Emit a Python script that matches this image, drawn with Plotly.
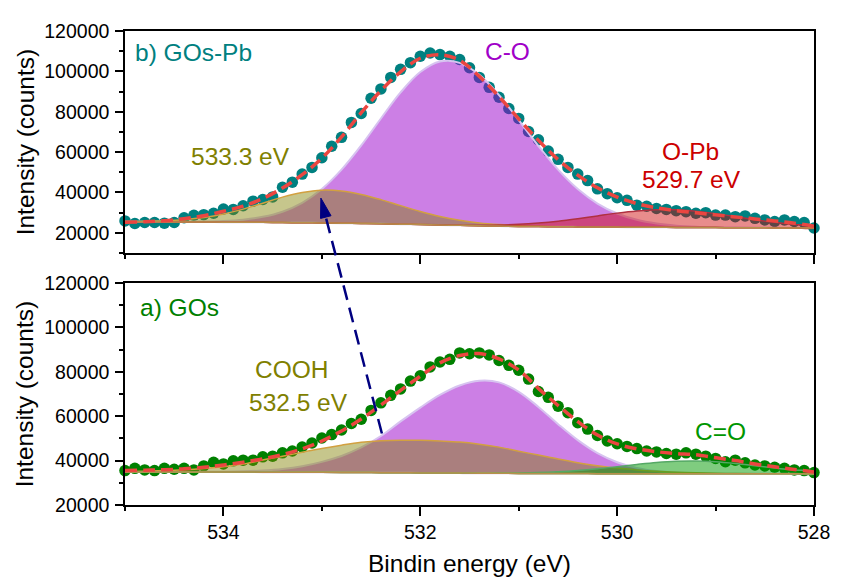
import math
import plotly.graph_objects as go

# ---------------- data ----------------
energy = [round(535.0 - 0.1 * i, 1) for i in range(71)]

gos_pb_counts = [25900, 24600, 25100, 25100, 24800, 25100, 27500, 28700, 29000, 29700,
                 31800, 31600, 33400, 35700, 36500, 37800, 42600, 45100, 49100, 52400,
                 57200, 62900, 67300, 74700, 79100, 86700, 91300, 97000, 101000, 104300,
                 107500, 109100, 108300, 107500, 105900, 101800, 97000, 92100, 87200, 81600,
                 76700, 70200, 66100, 60500, 56400, 52400, 49100, 45900, 41800, 39400,
                 37400, 36100, 33700, 33200, 32100, 31600, 31000, 30500, 29700, 30000,
                 28800, 28800, 28000, 28400, 27200, 26400, 25600, 26400, 25600, 25100,
                 22400]

gos_counts = [35500, 36500, 35800, 35500, 36500, 36100, 36500, 35800, 37600, 39200,
              38500, 39900, 40200, 40200, 41700, 42000, 43500, 44300, 46100, 47900,
              50200, 51700, 53800, 56700, 58600, 62600, 66000, 69400, 72300, 75800,
              78200, 82200, 84400, 85600, 88500, 88100, 88500, 87600, 85100, 82900,
              80700, 76700, 71100, 68500, 64500, 61600, 57100, 54200, 51300, 48800,
              47600, 46400, 45400, 44300, 43900, 43200, 42900, 43500, 42900, 42000,
              41000, 39500, 40200, 39000, 38000, 37600, 37000, 36500, 35800, 35500,
              34600]

comp_energy = [round(535.0 - 0.2 * i, 1) for i in range(36)]

# GOs-Pb fit components (upper edge of each filled peak, counts)
pb_baseline = [25500, 25500, 25450, 25400, 25350, 25300, 25250, 25200, 25100, 25000, 24900, 24800,
               24650, 24500, 24300, 24100, 23900, 23700, 23500, 23350, 23200, 23100, 23000, 22950,
               22900, 22850, 22800, 22750, 22700, 22650, 22600, 22550, 22500, 22450, 22400, 22400]
pb_cooh = [25580, 25700, 25950, 26500, 27550, 29300, 31750, 34700, 37700, 40000, 41140, 40730,
           39030, 36470, 33480, 30590, 28120, 26240, 24900, 24070, 23540, 23245, 23060, 22970,
           22900, 22850, 22800, 22750, 22700, 22650, 22600, 22550, 22500, 22450, 22400, 22400]
pb_co = [25500, 25510, 25480, 25480, 25570, 25840, 26510, 27920, 30470, 34870, 41690, 51290,
         63280, 76660, 89580, 99650, 104900, 104220, 98260, 88230, 75840, 63020, 51290, 41700,
         34520, 29580, 26440, 24590, 23570, 23040, 22760, 22610, 22520, 22460, 22400, 22400]
pb_opb = [25500, 25500, 25450, 25400, 25350, 25300, 25250, 25200, 25100, 25000, 24900, 24800,
          24650, 24500, 24300, 24120, 23950, 23830, 23770, 23890, 24200, 24830, 25740, 26980,
          28390, 29770, 30860, 31460, 31410, 30710, 29520, 28040, 26530, 25190, 24130, 23400]
pb_fit = [25300, 25500, 26000, 27000, 28500, 30700, 33200, 37000, 42200, 48800, 57000, 67500,
          79500, 90500, 99800, 106500, 108200, 105500, 97500, 87500, 76500, 65800, 56300, 48600,
          42300, 37700, 34500, 32400, 31000, 29900, 28900, 27900, 26900, 25900, 24800, 23300]

# GOs fit components
go_baseline = [34900, 34900, 34900, 34880, 34860, 34840, 34820, 34800, 34770, 34740, 34700, 34660,
               34610, 34560, 34510, 34460, 34410, 34360, 34310, 34270, 34230, 34200, 34170, 34150,
               34130, 34110, 34100, 34090, 34080, 34070, 34060, 34050, 34040, 34030, 34020, 34000]
go_cooh = [35100, 35250, 35500, 35880, 36460, 37240, 38420, 40300, 41970, 43740, 45500, 46960,
           48210, 48960, 49210, 49110, 48810, 48360, 47410, 46070, 44230, 42500, 40670, 39050,
           37730, 36610, 35800, 35190, 34780, 34490, 34300, 34180, 34110, 34065, 34035, 34000]
go_co = [34900, 34900, 34910, 34910, 34930, 35000, 35180, 35540, 36240, 37460, 39420, 42060,
         45910, 51060, 57650, 63890, 69580, 73850, 75950, 75240, 70970, 64180, 56410, 49200,
         43360, 39260, 36720, 35300, 34590, 34270, 34130, 34070, 34050, 34030, 34020, 34000]
go_ceqo = [34900, 34900, 34900, 34880, 34860, 34840, 34820, 34800, 34770, 34740, 34700, 34660,
           34610, 34560, 34510, 34460, 34410, 34375, 34350, 34365, 34440, 34630, 34980, 35540,
           36320, 37270, 38280, 39170, 39740, 39850, 39480, 38710, 37710, 36690, 35780, 35070]
go_fit = [35500, 35700, 35900, 36300, 37000, 38000, 39300, 40800, 42700, 45300, 48800, 53300,
          58700, 65000, 71600, 78000, 84000, 87300, 88200, 85800, 80800, 72500, 64800, 57600,
          51500, 47500, 45300, 44000, 43200, 42600, 41300, 40000, 38500, 37200, 36000, 34900]

# arrow: tail in GOs panel, head in GOs-Pb panel (eV, counts)
arrow_tail = (532.39, 52200)
arrow_head = (533.01, 37200)

# ---------------- layout geometry ----------------
# the page body adds an 8 px margin, so the figure is drawn 8 px smaller
# and all pixel positions are expressed in figure coordinates
PAGE_OFF = 8
W, H = 842 - PAGE_OFF, 581 - PAGE_OFF
ML, MR, MT, MB = 125 - PAGE_OFF, 18.7, 21 - PAGE_OFF, 76
PW = W - ML - MR
PH = H - MT - MB
X_RANGE = [535, 528]
TOP_RANGE = [10000, 120000]
BOT_RANGE = [20000, 120000]
TOP_DOM = [0.5316, 1.0]
BOT_DOM = [0.0, 0.4684]

FONT = "Liberation Sans, Arial, sans-serif"


def px_x(e):
    return ML + (X_RANGE[0] - e) / (X_RANGE[0] - X_RANGE[1]) * PW


def px_y(v, rng, dom):
    frac = (v - rng[0]) / (rng[1] - rng[0])
    pap = dom[0] + frac * (dom[1] - dom[0])
    return MT + (1 - pap) * PH


def paper_x(px):
    return (px - ML) / PW


def paper_y(py):
    return 1 - (py - MT) / PH


fig = go.Figure()


def add_panel(xa, ya, counts, mcolor, base, peaks, fit):
    fig.add_trace(go.Scatter(x=energy, y=counts, mode="markers", xaxis=xa, yaxis=ya,
                             marker=dict(size=11.5, color=mcolor, line=dict(width=0)),
                             cliponaxis=False, showlegend=False, hoverinfo="skip"))
    for top, fillc, linec, lw in peaks:
        fig.add_trace(go.Scatter(x=comp_energy + comp_energy[::-1], y=top + base[::-1],
                                 mode="lines", fill="toself", fillcolor=fillc, xaxis=xa, yaxis=ya,
                                 line=dict(color=linec, width=lw, shape="spline"),
                                 showlegend=False, hoverinfo="skip"))
    fig.add_trace(go.Scatter(x=comp_energy, y=base, mode="lines", xaxis=xa, yaxis=ya,
                             line=dict(color="#b8904a", width=1.5, shape="spline"),
                             showlegend=False, hoverinfo="skip"))
    fig.add_trace(go.Scatter(x=comp_energy, y=fit, mode="lines", xaxis=xa, yaxis=ya,
                             line=dict(color="#EB4640", width=3.5, dash="12px,6px", shape="spline"),
                             showlegend=False, hoverinfo="skip"))


PURPLE_FILL = "rgba(153,0,204,0.5)"
OLIVE_FILL = "rgba(128,128,0,0.45)"
RED_FILL = "rgba(204,0,0,0.45)"
GREEN_FILL = "rgba(0,153,0,0.5)"

add_panel("x2", "y2", gos_pb_counts, "#008080", pb_baseline,
          [(pb_co, PURPLE_FILL, "rgba(215,195,240,1)", 2),
           (pb_cooh, OLIVE_FILL, "#d2a040", 1.5),
           (pb_opb, RED_FILL, "#b03040", 1.5)], pb_fit)
add_panel("x", "y", gos_counts, "#008000", go_baseline,
          [(go_co, PURPLE_FILL, "rgba(215,195,240,1)", 2),
           (go_cooh, OLIVE_FILL, "#d2a040", 1.5),
           (go_ceqo, GREEN_FILL, "#55a865", 1.5)], go_fit)

# ---------------- axes ----------------
tickfont = dict(family=FONT, size=19.5, color="black")
common_x = dict(range=X_RANGE, tickmode="linear", tick0=528, dtick=2, ticks="outside",
                ticklen=9, tickwidth=1.5, tickcolor="black", showline=True, linewidth=1.5,
                linecolor="black", mirror=True, showgrid=False, zeroline=False,
                minor=dict(dtick=1, ticks="outside", ticklen=4, tickwidth=1.5, tickcolor="black",
                           showgrid=False),
                tickfont=tickfont)
common_y = dict(tickmode="linear", tick0=20000, dtick=20000, ticks="outside", ticklen=8,
                tickwidth=1.5, tickcolor="black", showline=True, linewidth=1.5, linecolor="black",
                mirror=True, showgrid=False, zeroline=False, tickformat="d",
                ticklabelstandoff=2,
                minor=dict(dtick=10000, ticks="outside", ticklen=4, tickwidth=1.5,
                           tickcolor="black", showgrid=False),
                tickfont=tickfont)

fig.update_layout(
    width=W, height=H,
    margin=dict(l=ML, r=MR, t=MT, b=MB),
    paper_bgcolor="white", plot_bgcolor="white",
    showlegend=False,
    font=dict(family=FONT, color="black"),
    xaxis=dict(common_x, domain=[0, 1], anchor="y"),
    xaxis2=dict(common_x, domain=[0, 1], anchor="y2", showticklabels=False),
    yaxis=dict(common_y, domain=BOT_DOM, range=BOT_RANGE, anchor="x"),
    yaxis2=dict(common_y, domain=TOP_DOM, range=TOP_RANGE, anchor="x2"),
)

# ---------------- text ----------------
LBL = 24.5
labels = [
    ("b) GOs-Pb", 534.92, 109330, "x2", "y2", "#008080", "left"),
    ("C-O", 531.11, 109960, "x2", "y2", "#A000C8", "center"),
    ("533.3 eV", 533.83, 57890, "x2", "y2", "#808000", "center"),
    ("O-Pb", 529.25, 60320, "x2", "y2", "#CC0000", "center"),
    ("529.7 eV", 529.24, 46250, "x2", "y2", "#CC0000", "center"),
    ("a) GOs", 534.87, 109100, "x", "y", "#008000", "left"),
    ("COOH", 533.30, 80870, "x", "y", "#808000", "center"),
    ("532.5 eV", 533.24, 66320, "x", "y", "#808000", "center"),
    ("C=O", 528.95, 53090, "x", "y", "#009600", "center"),
]
for txt, xv, yv, xr, yr, col, anc in labels:
    fig.add_annotation(text=txt, x=xv, y=yv, xref=xr, yref=yr, showarrow=False,
                       xanchor=anc, yanchor="middle",
                       font=dict(family=FONT, size=LBL, color=col))

for yr in ("y domain", "y2 domain"):
    fig.add_annotation(text="Intensity (counts)", x=paper_x(24 - PAGE_OFF), y=0.5, xref="paper",
                       yref=yr, textangle=-90, showarrow=False, xanchor="center",
                       yanchor="middle", font=dict(family=FONT, size=LBL, color="black"))
fig.add_annotation(text="Bindin energy (eV)", x=0.5, y=paper_y(565 - PAGE_OFF), xref="paper",
                   yref="paper", showarrow=False, xanchor="center", yanchor="middle",
                   font=dict(family=FONT, size=LBL, color="black"))

# ---------------- dashed arrow ----------------
tx, ty = px_x(arrow_tail[0]), px_y(arrow_tail[1], BOT_RANGE, BOT_DOM)
hx, hy = px_x(arrow_head[0]), px_y(arrow_head[1], TOP_RANGE, TOP_DOM)
dx, dy = hx - tx, hy - ty
L = math.hypot(dx, dy)
ux, uy = dx / L, dy / L
nx, ny = -uy, ux
HEAD_LEN, HEAD_HALF = 20, 5.5
bx, by = hx - ux * HEAD_LEN, hy - uy * HEAD_LEN
fig.add_shape(type="line", xref="paper", yref="paper",
              x0=paper_x(tx), y0=paper_y(ty), x1=paper_x(bx + ux * 2), y1=paper_y(by + uy * 2),
              line=dict(color="#000080", width=2.5, dash="15px,8px"))
pts = [(hx, hy), (bx + nx * HEAD_HALF, by + ny * HEAD_HALF), (bx - nx * HEAD_HALF, by - ny * HEAD_HALF)]
path = "M {} {} L {} {} L {} {} Z".format(*[v for p in pts for v in (paper_x(p[0]), paper_y(p[1]))])
fig.add_shape(type="path", xref="paper", yref="paper", path=path,
              fillcolor="#000080", line=dict(color="#000080", width=1))

fig.write_html("out.html")
